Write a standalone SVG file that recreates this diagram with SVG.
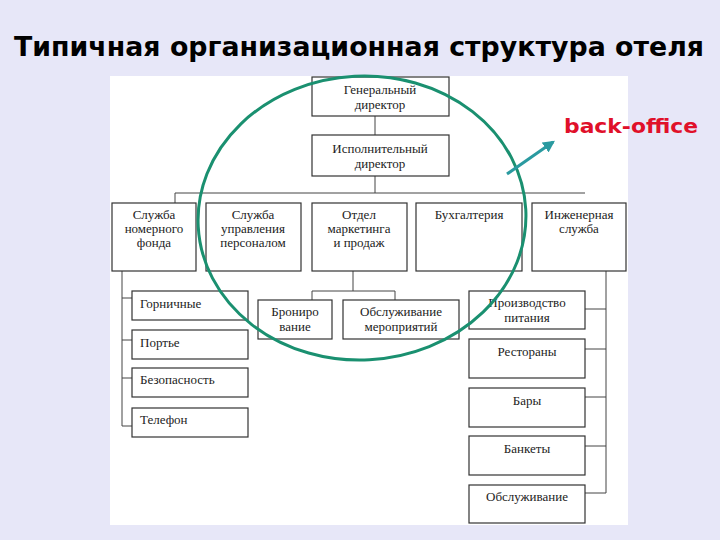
<svg xmlns="http://www.w3.org/2000/svg" width="720" height="540" viewBox="0 0 720 540">
<defs>
<style>
.box{fill:#ffffff;stroke:#333333;stroke-width:1.2}
.ln{fill:none;stroke:#444444;stroke-width:1}
.t{font-family:"Liberation Serif","DejaVu Serif",serif;font-size:13px;fill:#222222}
.c{text-anchor:middle}
</style>
<marker id="ah" viewBox="0 0 10 10" refX="8" refY="5" markerWidth="4" markerHeight="4" orient="auto">
<path d="M0,0 L10,5 L0,10 z" fill="#2a9aa0"/>
</marker>
</defs>
<rect x="0" y="0" width="720" height="540" fill="#e7e7f8"/>
<rect x="110" y="76" width="518" height="449" fill="#ffffff"/>
<text x="14" y="56" font-family="'DejaVu Sans',sans-serif" font-weight="bold" font-size="27" textLength="690" lengthAdjust="spacingAndGlyphs" fill="#000000">Типичная организационная структура отеля</text>
<g id="connectors">
<path class="ln" d="M375,116 V135 M375,176 V193 M175,193 H585 M175,193 V203"/>
<path class="ln" d="M122,271 V426 M122,298 H132 M122,340 H132 M122,378 H132 M122,426 H132"/>
<path class="ln" d="M606,271 V493 M585,309 H606 M585,349 H606 M585,397 H606 M585,446 H606 M585,493 H606"/>
<path class="ln" d="M353,271 V291 M312,291 H395 M312,291 V300 M395,291 V300"/>
</g>
<g id="gen"><rect class="box" x="312" y="77" width="137" height="39"/><text class="t c" x="380" y="94">Генеральный</text><text class="t c" x="380" y="109">директор</text></g>
<g id="exec"><rect class="box" x="312" y="135" width="137" height="41"/><text class="t c" x="380" y="153">Исполнительный</text><text class="t c" x="380" y="168">директор</text></g>
<g id="rooms"><rect class="box" x="112" y="203" width="84" height="68"/><text class="t c" x="154" y="219">Служба</text><text class="t c" x="154" y="233">номерного</text><text class="t c" x="154" y="247">фонда</text></g>
<g id="hr"><rect class="box" x="206" y="203" width="95" height="68"/><text class="t c" x="253" y="219">Служба</text><text class="t c" x="253" y="233">управления</text><text class="t c" x="253" y="247">персоналом</text></g>
<g id="marketing"><rect class="box" x="312" y="203" width="95" height="68"/><text class="t c" x="359" y="219">Отдел</text><text class="t c" x="359" y="233">маркетинга</text><text class="t c" x="359" y="247">и продаж</text></g>
<g id="accounting"><rect class="box" x="416" y="203" width="106" height="68"/><text class="t c" x="469" y="219">Бухгалтерия</text></g>
<g id="engineering"><rect class="box" x="532" y="203" width="94" height="68"/><text class="t c" x="579" y="219">Инженерная</text><text class="t c" x="579" y="233">служба</text></g>
<g id="maids"><rect class="box" x="132" y="291" width="116" height="29"/><text class="t" x="140" y="308">Горничные</text></g>
<g id="porter"><rect class="box" x="132" y="330" width="116" height="29"/><text class="t" x="140" y="347">Портье</text></g>
<g id="security"><rect class="box" x="132" y="368" width="116" height="29"/><text class="t" x="140" y="384">Безопасность</text></g>
<g id="phone"><rect class="box" x="132" y="408" width="116" height="29"/><text class="t" x="140" y="424">Телефон</text></g>
<g id="booking"><rect class="box" x="258" y="300" width="74" height="39"/><text class="t c" x="295" y="316">Брониро</text><text class="t c" x="295" y="331">вание</text></g>
<g id="events"><rect class="box" x="343" y="300" width="116" height="39"/><text class="t c" x="401" y="316">Обслуживание</text><text class="t c" x="401" y="331">мероприятий</text></g>
<g id="production"><rect class="box" x="469" y="291" width="116" height="38"/><text class="t c" x="527" y="307">Производство</text><text class="t c" x="527" y="322">питания</text></g>
<g id="restaurants"><rect class="box" x="469" y="339" width="116" height="39"/><text class="t c" x="527" y="356">Рестораны</text></g>
<g id="bars"><rect class="box" x="469" y="388" width="116" height="39"/><text class="t c" x="527" y="405">Бары</text></g>
<g id="banquets"><rect class="box" x="469" y="436" width="116" height="39"/><text class="t c" x="527" y="453">Банкеты</text></g>
<g id="service"><rect class="box" x="469" y="485" width="116" height="38"/><text class="t c" x="527" y="501">Обслуживание</text></g>
<ellipse cx="362" cy="218" rx="164" ry="142" transform="rotate(-3 362 218)" fill="none" stroke="#1a9070" stroke-width="3"/>
<line x1="507" y1="174" x2="553" y2="142" stroke="#2a9aa0" stroke-width="3" marker-end="url(#ah)"/>
<text x="564" y="133" font-family="'DejaVu Sans',sans-serif" font-weight="bold" font-size="20" textLength="134" lengthAdjust="spacingAndGlyphs" fill="#e0102a">back-office</text>
</svg>
